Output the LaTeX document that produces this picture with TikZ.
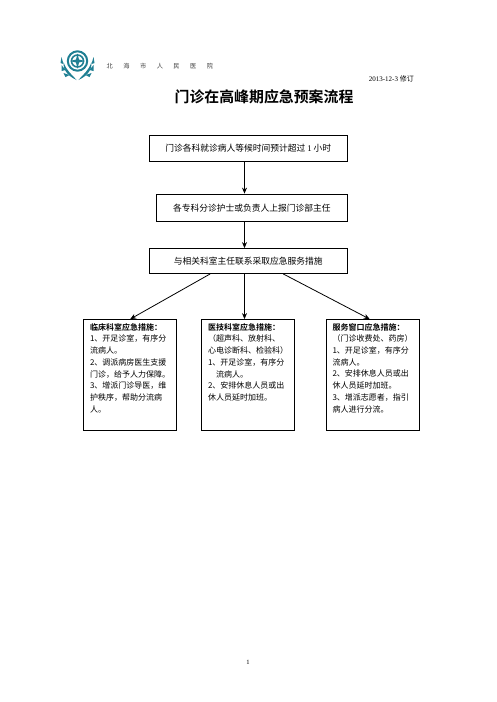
\documentclass[tikz,border=0pt]{standalone}
\usepackage{fontspec}
\setmainfont{Liberation Serif}
\newfontfamily\cjk[BoldFont=Noto Sans CJK SC Bold]{Noto Sans CJK SC}
\usetikzlibrary{positioning, arrows.meta, calc}
\definecolor{logoteal}{HTML}{1F7F93}

\begin{document}
\begin{tikzpicture}[
    x=1pt, y=-1pt,
    node distance=25pt and 25pt,
    flowbox/.style={draw, thick, fill=white, minimum height=26pt, inner sep=0pt,
                font=\cjk\fontsize{8.75}{10}\selectfont},
    planbox/.style={draw, thick, fill=white, minimum width=93pt, minimum height=110.5pt, inner sep=0pt},
    planlines/.style={align=left, text width=80pt, inner sep=0pt, anchor=north west,
                font=\cjk\fontsize{8}{11.7}\selectfont},
    arr/.style={-{Stealth[length=6pt,width=5pt]}, thick},
    leaf/.style={fill=logoteal, draw=none},
  ]
  \useasboundingbox (0,0) rectangle (496,702);

  % logo
  \draw[logoteal, line width=2pt] (77.5,61) circle (9.7);
  \draw[logoteal, line width=1.6pt] (77.5,61) circle (6);
  \fill[logoteal] (77.5,53.5) -- (79,59.5) -- (85,61) -- (79,62.5) -- (77.5,68.5) -- (76,62.5) -- (70,61) -- (76,59.5) -- cycle;
  \foreach \s in {-1,1} {
    \fill[leaf] (77.5+\s*14,62) .. controls (77.5+\s*15,69) and (77.5+\s*10,76) .. (77.5+\s*1,80) .. controls (77.5+\s*6,74) and (77.5+\s*11,71) .. cycle;
    \fill[leaf] (77.5+\s*14,64) -- (77.5+\s*16,57) -- (77.5+\s*17,63) -- cycle;
    \fill[leaf] (77.5+\s*12,70) -- (77.5+\s*16,65) -- (77.5+\s*16,71) -- cycle;
    \fill[leaf] (77.5+\s*8,75) -- (77.5+\s*14,73) -- (77.5+\s*12,77) -- cycle;
  }

  % header
  \node[font=\cjk\fontsize{6.2}{7}\selectfont, text=black!75, anchor=west, inner sep=0pt] (hospital) at (106.5,66.5)
    {北\hspace{10.5pt}海\hspace{10.5pt}市\hspace{10.5pt}人\hspace{10.5pt}民\hspace{10.5pt}医\hspace{10.5pt}院};
  \node[font=\fontsize{7}{8}\selectfont, anchor=east, inner sep=0pt] (revdate) at (414,78.5) {2013-12-3 {\cjk 修订}};
  \node[font=\cjk\bfseries\fontsize{14.9}{16}\selectfont, inner sep=0pt] (title) at (264,97) {门诊在高峰期应急预案流程};

  % flow
  \node[flowbox, minimum width=197.5pt] (waitbox) at (248.2,148) {门诊各科就诊病人等候时间预计超过 {\rmfamily 1} 小时};
  \node[flowbox, minimum width=190.5pt, minimum height=27.5pt, below=32.2pt of waitbox, xshift=3.7pt] (reportbox) {各专科分诊护士或负责人上报门诊部主任};
  \node[flowbox, minimum width=197.5pt, minimum height=25pt, below=26.2pt of reportbox, xshift=-3.7pt] (contactbox) {与相关科室主任联系采取应急服务措施};

  % plans
  \node[planbox, below=45.2pt of contactbox] (techbox) {};
  \node[planbox, left=24.2pt of techbox] (clinicbox) {};
  \node[planbox, right=30.7pt of techbox] (servicebox) {};

  \node[planlines] (clinictext) at ([xshift=6.5pt,yshift=-4pt]clinicbox.north west)
    {\textbf{临床科室应急措施：}\\1、开足诊室，有序分\\流病人。\\2、调派病房医生支援\\门诊，给予人力保障。\\3、增派门诊导医，维\\护秩序，帮助分流病\\人。};
  \node[planlines] (techtext) at ([xshift=6.5pt,yshift=-4pt]techbox.north west)
    {\textbf{医技科室应急措施：}\\（超声科、放射科、\\心电诊断科、检验科）\\1、开足诊室，有序分\\\hspace*{8pt}流病人。\\2、安排休息人员或出\\休人员延时加班。};
  \node[planlines] (servicetext) at ([xshift=6.5pt,yshift=-4pt]servicebox.north west)
    {\textbf{服务窗口应急措施：}\\（门诊收费处、药房）\\1、开足诊室，有序分\\流病人。\\2、安排休息人员或出\\休人员延时加班。\\3、增派志愿者，指引\\病人进行分流。};

  % page number
  \node[font=\fontsize{6.5}{7}\selectfont, inner sep=0pt] (pagenum) at (248,662) {1};

  % arrows
  \draw[arr] ([xshift=-3.7pt]waitbox.south) -- ([xshift=-7.4pt]reportbox.north);
  \draw[arr] ([xshift=-7.4pt]reportbox.south) -- ([xshift=-3.7pt]contactbox.north);
  \draw[arr] ([xshift=-3.7pt]contactbox.south) -- ([xshift=-3.7pt]techbox.north);
  \draw[arr] ([xshift=-38pt]contactbox.south) -- (clinicbox.north);
  \draw[arr] ([xshift=35pt]contactbox.south) -- ([xshift=-3pt]servicebox.north);

\end{tikzpicture}
\end{document}
